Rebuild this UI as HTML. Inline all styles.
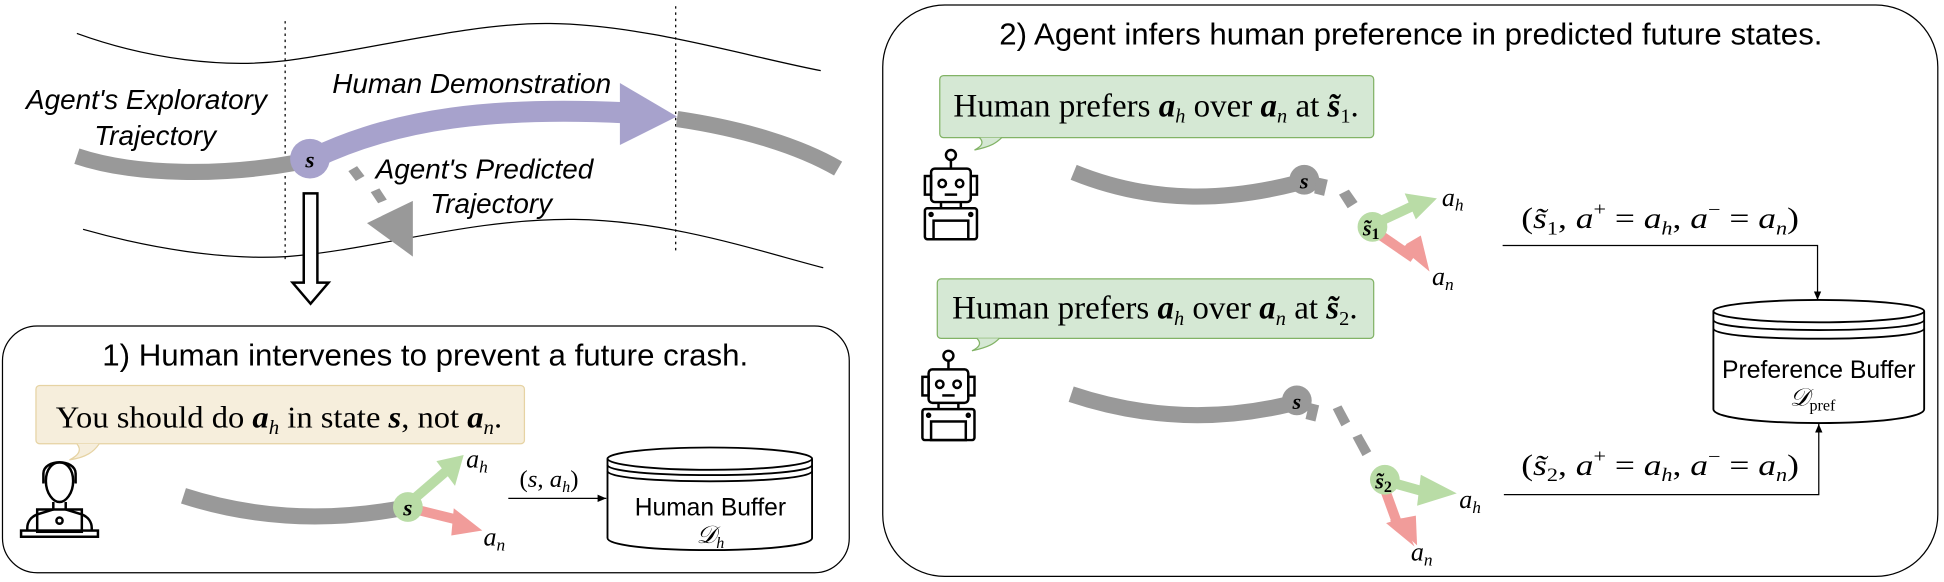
<!DOCTYPE html>
<html><head><meta charset="utf-8"><style>
html,body{margin:0;padding:0;background:#fff;}
svg{display:block;}
.it{font-family:"Liberation Sans",sans-serif;font-style:italic;}
.sa{font-family:"Liberation Sans",sans-serif;}
.se{font-family:"Liberation Serif",serif;}
.m{font-family:"Liberation Serif",serif;font-style:italic;}
</style></head><body>
<svg width="1944" height="582" viewBox="0 0 1568 469.5" preserveAspectRatio="none" xmlns="http://www.w3.org/2000/svg">
<defs>
<marker id="ah" markerWidth="8" markerHeight="8" refX="7" refY="4" orient="auto"><path d="M0,1 L7,4 L0,7 z" fill="#000"/></marker>
<g id="robot" fill="none" stroke="#000" stroke-width="2">
<circle cx="24" cy="5" r="4"/><line x1="24" y1="9" x2="24" y2="16"/>
<rect x="8" y="16" width="32" height="27" rx="3"/>
<rect x="3" y="22" width="5" height="15"/><rect x="40" y="22" width="5" height="15"/>
<circle cx="17" cy="28" r="3"/><circle cx="31" cy="28" r="3"/><line x1="19" y1="37" x2="29" y2="37"/>
<line x1="16" y1="43" x2="16" y2="48"/><line x1="32" y1="43" x2="32" y2="48"/>
<rect x="3" y="48" width="42" height="25" rx="2"/>
<rect x="10" y="58" width="28" height="15"/>
<circle cx="8" cy="53" r="1.2"/><circle cx="40" cy="53" r="1.2"/>
</g>
</defs>
<!-- Left top road -->
<path d="M62,27 C120,48 180,55 230,49 C300,40 380,18 444,19 C520,20 600,45 662,57" fill="none" stroke="#000" stroke-width="1"/>
<path d="M67,185 C120,200 180,210 231,207 C300,202 380,176 463,177 C540,178 610,202 664,216" fill="none" stroke="#000" stroke-width="1"/>
<line x1="230" y1="17" x2="230" y2="212" stroke="#000" stroke-dasharray="2,3"/>
<line x1="545" y1="5" x2="545" y2="205" stroke="#000" stroke-dasharray="2,3"/>
<!-- gray trajectories -->
<path d="M62,126 C110,142 180,142 240,131" fill="none" stroke="#999" stroke-width="13"/>
<path d="M546,96 C600,104 645,118 676,136" fill="none" stroke="#999" stroke-width="13"/>
<!-- purple demo -->
<path d="M252,128 C320,95 400,86 505,91" fill="none" stroke="#a7a2cc" stroke-width="17"/>
<polygon points="500,67 546,94 500,117" fill="#a7a2cc"/>
<circle cx="250" cy="128" r="16" fill="#a7a2cc"/>
<text x="250" y="135" class="m" font-size="19" font-weight="bold" text-anchor="middle">s</text>
<!-- predicted dashes -->
<polygon points="281,138 288,134 294,142 287,146" fill="#999"/>
<polygon points="299,155 306,152 312,161 305,164" fill="#999"/>
<polygon points="296,180 333,162 333,207" fill="#999"/>
<text x="21" y="88" class="it" font-size="22.5">Agent's Exploratory</text>
<text x="76" y="117" class="it" font-size="22.5">Trajectory</text>
<text x="268" y="75" class="it" font-size="22.5">Human Demonstration</text>
<text x="303" y="144" class="it" font-size="22.5">Agent's Predicted</text>
<text x="347" y="172" class="it" font-size="22.5">Trajectory</text>
<!-- hollow arrow -->
<polygon points="245,156 256,156 256,228 265,228 250.5,245 236,228 245,228" fill="#fff" stroke="#000" stroke-width="2"/>
<!-- Box 1 -->
<rect x="2" y="263" width="683" height="199" rx="28" fill="none" stroke="#000" stroke-width="1"/>
<text x="343" y="295" class="sa" font-size="25" text-anchor="middle" textLength="521" lengthAdjust="spacingAndGlyphs">1) Human intervenes to prevent a future crash.</text>
<rect x="29" y="311" width="394" height="47" rx="3" fill="#f6eedc" stroke="#e6d3a3"/>
<path d="M62,358 C66,363 64,367 56,371 C70,369 76,364 80,358" fill="#f6eedc" stroke="#e6d3a3"/>
<text x="45" y="345" class="se" font-size="25" textLength="360" lengthAdjust="spacingAndGlyphs">You should do <tspan class="m" font-weight="bold">a</tspan><tspan class="m" font-size="16" dy="5">h</tspan><tspan dy="-5"> in state </tspan><tspan class="m" font-weight="bold">s</tspan>, not <tspan class="m" font-weight="bold">a</tspan><tspan class="m" font-size="16" dy="5">n</tspan><tspan dy="-5">.</tspan></text>
<!-- human icon -->
<g fill="none" stroke="#000" stroke-width="2">
<path d="M37,388 C37,368 59,368 59,388 C59,398 53,405 48,405 C43,405 37,398 37,388z"/>
<path d="M35,390 L35,382 C35,370 61,370 61,382 L61,390"/>
<path d="M43,405 L43,411 L30,415 C25,417 22,421 22,426 L22,428 M53,405 L53,411 L66,415 C71,417 74,421 74,426 L74,428"/>
<rect x="30" y="411" width="36" height="18"/>
<circle cx="48" cy="420" r="2.5"/>
<rect x="17" y="428" width="62" height="5"/>
</g>
<!-- traj in box1 -->
<path d="M148,400 C210,420 270,420 324,410" fill="none" stroke="#999" stroke-width="13"/>
<line x1="331" y1="405" x2="360" y2="380" stroke="#b9dca6" stroke-width="8"/>
<polygon points="352,372 374,367 367,392" fill="#b9dca6"/>
<line x1="331" y1="410" x2="372" y2="420" stroke="#f19c9a" stroke-width="8"/>
<polygon points="366,410 389,428 364,432" fill="#f19c9a"/>
<circle cx="329" cy="409" r="12" fill="#b9dca6"/>
<text x="329" y="416" class="m" font-size="19" font-weight="bold" text-anchor="middle">s</text>
<text x="376" y="377" class="m" font-size="21">a<tspan font-size="14" dy="4">h</tspan></text>
<text x="390" y="440" class="m" font-size="21">a<tspan font-size="14" dy="4">n</tspan></text>
<text x="419" y="393" class="se" font-size="20">(<tspan class="m">s</tspan>, <tspan class="m">a</tspan><tspan class="m" font-size="13" dy="4">h</tspan><tspan dy="-4">)</tspan></text>
<line x1="410" y1="402" x2="489" y2="402" stroke="#000" marker-end="url(#ah)"/>
<!-- cylinder 1 -->
<g fill="#fff" stroke="#000" stroke-width="1.5">
<path d="M490,370 L490,434 C490,447 655,447 655,434 L655,370"/>
<ellipse cx="572.5" cy="370" rx="82.5" ry="9"/>
<path d="M490,375 C490,386 655,386 655,375 M490,380 C490,391 655,391 655,380" fill="none"/>
</g>
<text x="573" y="416" class="sa" font-size="20" text-anchor="middle" textLength="122" lengthAdjust="spacingAndGlyphs">Human Buffer</text>
<text x="573" y="438" class="m" font-size="20" text-anchor="middle">𝒟<tspan font-size="13" dy="4">h</tspan></text>
<!-- Right panel -->
<rect x="712" y="4" width="851" height="461" rx="50" fill="none" stroke="#000" stroke-width="1"/>
<text x="1138" y="36" class="sa" font-size="25" text-anchor="middle" textLength="664" lengthAdjust="spacingAndGlyphs">2) Agent infers human preference in predicted future states.</text>
<!-- bubble 1 -->
<rect x="758" y="61" width="350" height="50" rx="3" fill="#d5e8d4" stroke="#82b366"/>
<path d="M790,111 C794,115 792,118 786,121 C800,118 804,115 808,111" fill="#d5e8d4" stroke="#82b366"/>
<text x="769" y="94" class="se" font-size="26" textLength="327" lengthAdjust="spacingAndGlyphs">Human prefers <tspan class="m" font-weight="bold">a</tspan><tspan class="m" font-size="16" dy="5">h</tspan><tspan dy="-5"> over </tspan><tspan class="m" font-weight="bold">a</tspan><tspan class="m" font-size="16" dy="5">n</tspan><tspan dy="-5"> at </tspan><tspan class="m" font-weight="bold">s̃</tspan><tspan font-size="16" dy="5">1</tspan><tspan dy="-5">.</tspan></text>
<!-- bubble 2 -->
<rect x="756" y="225" width="352" height="48" rx="3" fill="#d5e8d4" stroke="#82b366"/>
<path d="M788,273 C792,277 790,280 784,283 C798,280 802,277 806,273" fill="#d5e8d4" stroke="#82b366"/>
<text x="768" y="257" class="se" font-size="26" textLength="327" lengthAdjust="spacingAndGlyphs">Human prefers <tspan class="m" font-weight="bold">a</tspan><tspan class="m" font-size="16" dy="5">h</tspan><tspan dy="-5"> over </tspan><tspan class="m" font-weight="bold">a</tspan><tspan class="m" font-size="16" dy="5">n</tspan><tspan dy="-5"> at </tspan><tspan class="m" font-weight="bold">s̃</tspan><tspan font-size="16" dy="5">2</tspan><tspan dy="-5">.</tspan></text>
<!-- robots -->
<use href="#robot" x="743" y="120"/>
<use href="#robot" x="741" y="282"/>
<!-- traj 1 -->
<path d="M866,139 C930,165 990,162 1045,148" fill="none" stroke="#999" stroke-width="13"/>
<circle cx="1052" cy="145" r="12" fill="#999"/>
<text x="1052" y="152" class="m" font-size="18" font-weight="bold" text-anchor="middle">s</text>
<polygon points="1062,143 1071,145 1068,158 1060,156" fill="#999"/>
<polygon points="1080,157 1088,153 1095,163 1087,168" fill="#999"/>
<line x1="1110" y1="180" x2="1140" y2="166" stroke="#b9dca6" stroke-width="8"/>
<polygon points="1133,156 1159,160 1142,177" fill="#b9dca6"/>
<line x1="1108" y1="186" x2="1140" y2="208" stroke="#f19c9a" stroke-width="8"/>
<polygon points="1134,197 1153,219 1146,190" fill="#f19c9a"/>
<polygon points="1130,200 1153,219 1144,192" fill="#f19c9a"/>
<circle cx="1107" cy="183" r="12" fill="#b9dca6"/>
<text x="1106" y="190" class="m" font-size="18" font-weight="bold" text-anchor="middle">s̃<tspan font-size="13" dy="3" font-style="normal">1</tspan></text>
<text x="1163" y="166" class="m" font-size="21">a<tspan font-size="14" dy="4">h</tspan></text>
<text x="1155" y="230" class="m" font-size="21">a<tspan font-size="14" dy="4">n</tspan></text>
<!-- traj 2 -->
<path d="M864,318 C930,340 990,338 1040,326" fill="none" stroke="#999" stroke-width="13"/>
<circle cx="1046" cy="323" r="12" fill="#999"/>
<text x="1046" y="330" class="m" font-size="18" font-weight="bold" text-anchor="middle">s</text>
<polygon points="1056,325 1064,327 1061,340 1053,338" fill="#999"/>
<polygon points="1075,330 1082,327 1089,340 1082,344" fill="#999"/>
<polygon points="1091,353 1098,350 1106,364 1099,368" fill="#999"/>
<line x1="1118" y1="388" x2="1150" y2="397" stroke="#b9dca6" stroke-width="8"/>
<polygon points="1146,383 1175,398 1143,408" fill="#b9dca6"/>
<line x1="1116" y1="392" x2="1128" y2="425" stroke="#f19c9a" stroke-width="8"/>
<polygon points="1121,420 1143,440 1142,416" fill="#f19c9a"/>
<polygon points="1118,422 1141,441 1131,418" fill="#f19c9a"/>
<circle cx="1117" cy="387" r="12" fill="#b9dca6"/>
<text x="1116" y="394" class="m" font-size="18" font-weight="bold" text-anchor="middle">s̃<tspan font-size="13" dy="3" font-style="normal">2</tspan></text>
<text x="1177" y="410" class="m" font-size="21">a<tspan font-size="14" dy="4">h</tspan></text>
<text x="1138" y="452" class="m" font-size="21">a<tspan font-size="14" dy="4">n</tspan></text>
<!-- formulas -->
<text x="1227" y="184" class="se" font-size="24" textLength="224" lengthAdjust="spacingAndGlyphs">(<tspan class="m">s̃</tspan><tspan font-size="15" dy="5">1</tspan><tspan dy="-5">, </tspan><tspan class="m">a</tspan><tspan font-size="15" dy="-10">+</tspan><tspan dy="10"> = </tspan><tspan class="m">a</tspan><tspan class="m" font-size="15" dy="5">h</tspan><tspan dy="-5">, </tspan><tspan class="m">a</tspan><tspan font-size="15" dy="-10">−</tspan><tspan dy="10"> = </tspan><tspan class="m">a</tspan><tspan class="m" font-size="15" dy="5">n</tspan><tspan dy="-5">)</tspan></text>
<text x="1227" y="383" class="se" font-size="24" textLength="224" lengthAdjust="spacingAndGlyphs">(<tspan class="m">s̃</tspan><tspan font-size="15" dy="5">2</tspan><tspan dy="-5">, </tspan><tspan class="m">a</tspan><tspan font-size="15" dy="-10">+</tspan><tspan dy="10"> = </tspan><tspan class="m">a</tspan><tspan class="m" font-size="15" dy="5">h</tspan><tspan dy="-5">, </tspan><tspan class="m">a</tspan><tspan font-size="15" dy="-10">−</tspan><tspan dy="10"> = </tspan><tspan class="m">a</tspan><tspan class="m" font-size="15" dy="5">n</tspan><tspan dy="-5">)</tspan></text>
<polyline points="1212,198 1466,198 1466,242" fill="none" stroke="#000" marker-end="url(#ah)"/>
<polyline points="1213,399 1467,399 1467,342" fill="none" stroke="#000" marker-end="url(#ah)"/>
<!-- cylinder 2 -->
<g fill="#fff" stroke="#000" stroke-width="1.5">
<path d="M1382,251 L1382,330 C1382,345 1552,345 1552,330 L1552,251"/>
<ellipse cx="1467" cy="251" rx="85" ry="9"/>
<path d="M1382,258 C1382,269 1552,269 1552,258 M1382,265 C1382,276 1552,276 1552,265" fill="none"/>
</g>
<text x="1467" y="305" class="sa" font-size="20" text-anchor="middle" textLength="156" lengthAdjust="spacingAndGlyphs">Preference Buffer</text>
<text x="1462" y="327" class="m" font-size="20" text-anchor="middle">𝒟<tspan font-size="13" dy="4" font-style="normal">pref</tspan></text>
</svg>
</body></html>
